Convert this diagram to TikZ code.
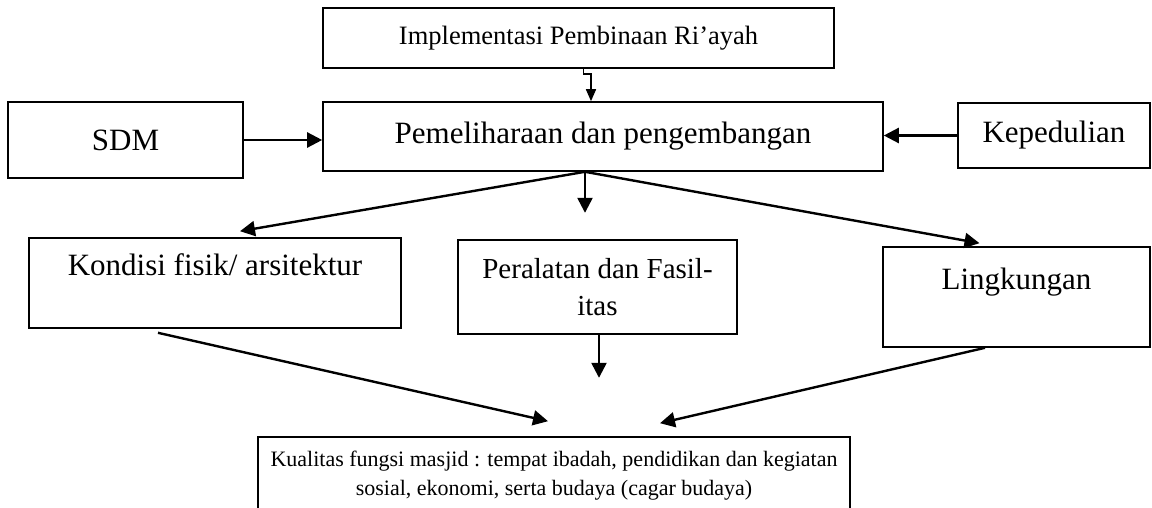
\documentclass[tikz,border=0pt]{standalone}
\usepackage{fontspec}
\setmainfont{Liberation Serif}
\usetikzlibrary{positioning, arrows.meta}

\begin{document}
\begin{tikzpicture}[x=1pt, y=-1pt,
    box/.style={draw, line width=1.6pt, inner sep=0pt, align=center},
    link/.style={line width=2.4pt, -{Triangle[length=15pt, width=15pt]}},
    thinlink/.style={line width=1.6pt, -{Triangle[length=12pt, width=10pt]}},
    big/.style={font=\fontsize{31}{37}\selectfont},
    small/.style={font=\fontsize{29}{37}\selectfont},
    tiny/.style={font=\fontsize{22}{29}\selectfont}]
\clip (0,0) rectangle (1152,508);
% boxes
\node[box, font=\fontsize{26.5}{32}\selectfont, minimum width=511pt, minimum height=60pt] (impl) at (578.5,38) {Implementasi Pembinaan Ri’ayah};
\node[box, big, minimum width=560pt, minimum height=69pt] (pem) at (603,136.5) {Pemeliharaan dan pengembangan};
\node[box, big, minimum width=235pt, minimum height=76pt] (sdm) at (125.5,140) {SDM};
\node[box, big, minimum width=192pt, minimum height=65pt] (kep) at (1054,135.5) {Kepedulian};
\node[box, big, minimum width=372pt, minimum height=90pt] (kon) at (215,283) {Kondisi fisik/ arsitektur\\\mbox{}};
\node[box, small, minimum width=279pt, minimum height=94pt] (pera) at (597.5,287) {Peralatan dan Fasil-\\itas};
\node[box, big, minimum width=267pt, minimum height=100pt] (lin) at (1016.5,297) {Lingkungan\\\mbox{}};
\node[box, tiny, minimum width=592pt, minimum height=77pt] (kual) at (554,475.5) {Kualitas fungsi masjid : tempat ibadah, pendidikan dan kegiatan\\sosial, ekonomi, serta budaya (cagar budaya)};
% connectors
\coordinate (fork) at ([xshift=-18pt]pem.south);
\draw[thinlink] ([xshift=5pt]impl.south) -- ++(0,5) -| ([xshift=-12pt]pem.north);
\draw[link] (sdm.east) -- (sdm.east -| pem.west);
\draw[link] (kep.west) -- (kep.west -| pem.east);
\draw[link] (fork) -- ([xshift=25pt, yshift=6pt]kon.north);
\draw[link] (fork) -- ++(0,41);
\draw[link] (fork) -- ([xshift=-37pt, yshift=3pt]lin.north);
\draw[link] ([xshift=-57pt, yshift=-4pt]kon.south) -- ([xshift=-6pt, yshift=15pt]kual.north);
\draw[link] ([xshift=1.5pt]pera.south) -- ++(0,43);
\draw[link] ([xshift=-31.5pt]lin.south) -- ([xshift=106pt, yshift=13pt]kual.north);
\end{tikzpicture}
\end{document}
